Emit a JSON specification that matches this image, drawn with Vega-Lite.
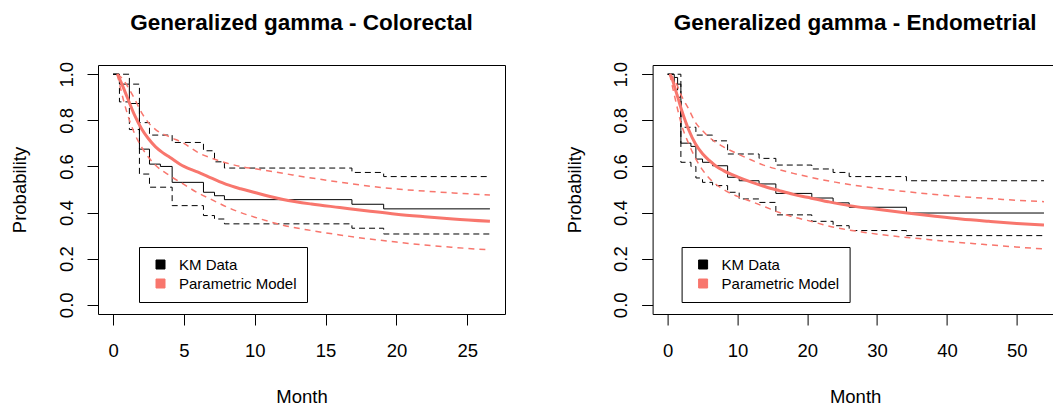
{
  "$schema": "https://vega.github.io/schema/vega-lite/v6.json",
  "padding": {"left": 10, "top": 11, "right": 0, "bottom": 0},
  "background": "white",
  "datasets": {
    "colo": [
      {"t": 0, "s": 1.0, "curve": "KM", "group": "KM Data"},
      {"t": 0.45, "s": 0.957, "curve": "KM", "group": "KM Data"},
      {"t": 1.15, "s": 0.873, "curve": "KM", "group": "KM Data"},
      {"t": 1.86, "s": 0.675, "curve": "KM", "group": "KM Data"},
      {"t": 2.57, "s": 0.61, "curve": "KM", "group": "KM Data"},
      {"t": 3.34, "s": 0.6, "curve": "KM", "group": "KM Data"},
      {"t": 4.17, "s": 0.531, "curve": "KM", "group": "KM Data"},
      {"t": 6.38, "s": 0.488, "curve": "KM", "group": "KM Data"},
      {"t": 7.16, "s": 0.473, "curve": "KM", "group": "KM Data"},
      {"t": 7.86, "s": 0.456, "curve": "KM", "group": "KM Data"},
      {"t": 16.86, "s": 0.436, "curve": "KM", "group": "KM Data"},
      {"t": 19.1, "s": 0.416, "curve": "KM", "group": "KM Data"},
      {"t": 26.6, "s": 0.416, "curve": "KM", "group": "KM Data"},

      {"t": 0, "s": 1.0, "curve": "KM_hi", "group": "KM Data"},
      {"t": 1.15, "s": 0.957, "curve": "KM_hi", "group": "KM Data"},
      {"t": 1.86, "s": 0.79, "curve": "KM_hi", "group": "KM Data"},
      {"t": 2.57, "s": 0.736, "curve": "KM_hi", "group": "KM Data"},
      {"t": 4.17, "s": 0.704, "curve": "KM_hi", "group": "KM Data"},
      {"t": 6.38, "s": 0.668, "curve": "KM_hi", "group": "KM Data"},
      {"t": 7.16, "s": 0.62, "curve": "KM_hi", "group": "KM Data"},
      {"t": 7.86, "s": 0.593, "curve": "KM_hi", "group": "KM Data"},
      {"t": 16.86, "s": 0.574, "curve": "KM_hi", "group": "KM Data"},
      {"t": 19.1, "s": 0.556, "curve": "KM_hi", "group": "KM Data"},
      {"t": 26.6, "s": 0.556, "curve": "KM_hi", "group": "KM Data"},

      {"t": 0, "s": 1.0, "curve": "KM_lo", "group": "KM Data"},
      {"t": 0.45, "s": 0.88, "curve": "KM_lo", "group": "KM Data"},
      {"t": 1.15, "s": 0.76, "curve": "KM_lo", "group": "KM Data"},
      {"t": 1.86, "s": 0.567, "curve": "KM_lo", "group": "KM Data"},
      {"t": 2.57, "s": 0.51, "curve": "KM_lo", "group": "KM Data"},
      {"t": 4.17, "s": 0.43, "curve": "KM_lo", "group": "KM Data"},
      {"t": 6.38, "s": 0.387, "curve": "KM_lo", "group": "KM Data"},
      {"t": 7.16, "s": 0.372, "curve": "KM_lo", "group": "KM Data"},
      {"t": 7.86, "s": 0.351, "curve": "KM_lo", "group": "KM Data"},
      {"t": 16.86, "s": 0.332, "curve": "KM_lo", "group": "KM Data"},
      {"t": 19.1, "s": 0.307, "curve": "KM_lo", "group": "KM Data"},
      {"t": 26.6, "s": 0.307, "curve": "KM_lo", "group": "KM Data"},

      {"t": 0.3, "s": 1.0, "curve": "M", "group": "Parametric Model"},
      {"t": 0.6, "s": 0.96, "curve": "M", "group": "Parametric Model"},
      {"t": 1.0, "s": 0.9, "curve": "M", "group": "Parametric Model"},
      {"t": 1.5, "s": 0.825, "curve": "M", "group": "Parametric Model"},
      {"t": 2.0, "s": 0.765, "curve": "M", "group": "Parametric Model"},
      {"t": 2.5, "s": 0.72, "curve": "M", "group": "Parametric Model"},
      {"t": 3.0, "s": 0.685, "curve": "M", "group": "Parametric Model"},
      {"t": 3.5, "s": 0.66, "curve": "M", "group": "Parametric Model"},
      {"t": 4.0, "s": 0.64, "curve": "M", "group": "Parametric Model"},
      {"t": 5.0, "s": 0.6, "curve": "M", "group": "Parametric Model"},
      {"t": 6.0, "s": 0.575, "curve": "M", "group": "Parametric Model"},
      {"t": 7.0, "s": 0.548, "curve": "M", "group": "Parametric Model"},
      {"t": 8.0, "s": 0.522, "curve": "M", "group": "Parametric Model"},
      {"t": 9.0, "s": 0.503, "curve": "M", "group": "Parametric Model"},
      {"t": 10.0, "s": 0.487, "curve": "M", "group": "Parametric Model"},
      {"t": 11.0, "s": 0.471, "curve": "M", "group": "Parametric Model"},
      {"t": 12.0, "s": 0.457, "curve": "M", "group": "Parametric Model"},
      {"t": 14.0, "s": 0.437, "curve": "M", "group": "Parametric Model"},
      {"t": 16.0, "s": 0.422, "curve": "M", "group": "Parametric Model"},
      {"t": 18.0, "s": 0.407, "curve": "M", "group": "Parametric Model"},
      {"t": 20.0, "s": 0.393, "curve": "M", "group": "Parametric Model"},
      {"t": 22.0, "s": 0.382, "curve": "M", "group": "Parametric Model"},
      {"t": 24.0, "s": 0.372, "curve": "M", "group": "Parametric Model"},
      {"t": 26.6, "s": 0.362, "curve": "M", "group": "Parametric Model"},

      {"t": 0.3, "s": 1.0, "curve": "M_hi", "group": "Parametric Model"},
      {"t": 0.6, "s": 0.985, "curve": "M_hi", "group": "Parametric Model"},
      {"t": 1.0, "s": 0.95, "curve": "M_hi", "group": "Parametric Model"},
      {"t": 1.5, "s": 0.895, "curve": "M_hi", "group": "Parametric Model"},
      {"t": 2.0, "s": 0.835, "curve": "M_hi", "group": "Parametric Model"},
      {"t": 2.5, "s": 0.79, "curve": "M_hi", "group": "Parametric Model"},
      {"t": 3.0, "s": 0.76, "curve": "M_hi", "group": "Parametric Model"},
      {"t": 4.0, "s": 0.728, "curve": "M_hi", "group": "Parametric Model"},
      {"t": 5.0, "s": 0.7, "curve": "M_hi", "group": "Parametric Model"},
      {"t": 6.0, "s": 0.66, "curve": "M_hi", "group": "Parametric Model"},
      {"t": 7.0, "s": 0.635, "curve": "M_hi", "group": "Parametric Model"},
      {"t": 8.0, "s": 0.615, "curve": "M_hi", "group": "Parametric Model"},
      {"t": 9.0, "s": 0.6, "curve": "M_hi", "group": "Parametric Model"},
      {"t": 10.0, "s": 0.59, "curve": "M_hi", "group": "Parametric Model"},
      {"t": 12.0, "s": 0.57, "curve": "M_hi", "group": "Parametric Model"},
      {"t": 14.0, "s": 0.55, "curve": "M_hi", "group": "Parametric Model"},
      {"t": 16.0, "s": 0.532, "curve": "M_hi", "group": "Parametric Model"},
      {"t": 18.0, "s": 0.515, "curve": "M_hi", "group": "Parametric Model"},
      {"t": 20.0, "s": 0.502, "curve": "M_hi", "group": "Parametric Model"},
      {"t": 22.0, "s": 0.493, "curve": "M_hi", "group": "Parametric Model"},
      {"t": 24.0, "s": 0.485, "curve": "M_hi", "group": "Parametric Model"},
      {"t": 26.6, "s": 0.476, "curve": "M_hi", "group": "Parametric Model"},

      {"t": 0.3, "s": 1.0, "curve": "M_lo", "group": "Parametric Model"},
      {"t": 0.6, "s": 0.92, "curve": "M_lo", "group": "Parametric Model"},
      {"t": 1.0, "s": 0.83, "curve": "M_lo", "group": "Parametric Model"},
      {"t": 1.5, "s": 0.745, "curve": "M_lo", "group": "Parametric Model"},
      {"t": 2.0, "s": 0.685, "curve": "M_lo", "group": "Parametric Model"},
      {"t": 2.5, "s": 0.64, "curve": "M_lo", "group": "Parametric Model"},
      {"t": 3.0, "s": 0.605, "curve": "M_lo", "group": "Parametric Model"},
      {"t": 4.0, "s": 0.56, "curve": "M_lo", "group": "Parametric Model"},
      {"t": 5.0, "s": 0.522, "curve": "M_lo", "group": "Parametric Model"},
      {"t": 6.0, "s": 0.485, "curve": "M_lo", "group": "Parametric Model"},
      {"t": 7.0, "s": 0.455, "curve": "M_lo", "group": "Parametric Model"},
      {"t": 8.0, "s": 0.425, "curve": "M_lo", "group": "Parametric Model"},
      {"t": 9.0, "s": 0.4, "curve": "M_lo", "group": "Parametric Model"},
      {"t": 10.0, "s": 0.38, "curve": "M_lo", "group": "Parametric Model"},
      {"t": 12.0, "s": 0.345, "curve": "M_lo", "group": "Parametric Model"},
      {"t": 14.0, "s": 0.322, "curve": "M_lo", "group": "Parametric Model"},
      {"t": 16.0, "s": 0.303, "curve": "M_lo", "group": "Parametric Model"},
      {"t": 18.0, "s": 0.286, "curve": "M_lo", "group": "Parametric Model"},
      {"t": 20.0, "s": 0.272, "curve": "M_lo", "group": "Parametric Model"},
      {"t": 22.0, "s": 0.259, "curve": "M_lo", "group": "Parametric Model"},
      {"t": 24.0, "s": 0.249, "curve": "M_lo", "group": "Parametric Model"},
      {"t": 26.6, "s": 0.238, "curve": "M_lo", "group": "Parametric Model"}
    ],
    "endo": [
      {"t": 0, "s": 1.0, "curve": "KM", "group": "KM Data"},
      {"t": 0.95, "s": 0.986, "curve": "KM", "group": "KM Data"},
      {"t": 1.43, "s": 0.957, "curve": "KM", "group": "KM Data"},
      {"t": 1.9, "s": 0.701, "curve": "KM", "group": "KM Data"},
      {"t": 3.34, "s": 0.687, "curve": "KM", "group": "KM Data"},
      {"t": 4.05, "s": 0.632, "curve": "KM", "group": "KM Data"},
      {"t": 5.0, "s": 0.618, "curve": "KM", "group": "KM Data"},
      {"t": 6.44, "s": 0.603, "curve": "KM", "group": "KM Data"},
      {"t": 8.59, "s": 0.553, "curve": "KM", "group": "KM Data"},
      {"t": 10.25, "s": 0.538, "curve": "KM", "group": "KM Data"},
      {"t": 13.1, "s": 0.524, "curve": "KM", "group": "KM Data"},
      {"t": 15.5, "s": 0.483, "curve": "KM", "group": "KM Data"},
      {"t": 20.65, "s": 0.463, "curve": "KM", "group": "KM Data"},
      {"t": 23.7, "s": 0.442, "curve": "KM", "group": "KM Data"},
      {"t": 26.0, "s": 0.423, "curve": "KM", "group": "KM Data"},
      {"t": 34.2, "s": 0.398, "curve": "KM", "group": "KM Data"},
      {"t": 53.9, "s": 0.398, "curve": "KM", "group": "KM Data"},

      {"t": 0, "s": 1.0, "curve": "KM_hi", "group": "KM Data"},
      {"t": 1.9, "s": 0.77, "curve": "KM_hi", "group": "KM Data"},
      {"t": 4.05, "s": 0.736, "curve": "KM_hi", "group": "KM Data"},
      {"t": 6.44, "s": 0.711, "curve": "KM_hi", "group": "KM Data"},
      {"t": 8.59, "s": 0.654, "curve": "KM_hi", "group": "KM Data"},
      {"t": 13.1, "s": 0.635, "curve": "KM_hi", "group": "KM Data"},
      {"t": 15.5, "s": 0.606, "curve": "KM_hi", "group": "KM Data"},
      {"t": 20.65, "s": 0.589, "curve": "KM_hi", "group": "KM Data"},
      {"t": 23.7, "s": 0.574, "curve": "KM_hi", "group": "KM Data"},
      {"t": 26.0, "s": 0.556, "curve": "KM_hi", "group": "KM Data"},
      {"t": 34.2, "s": 0.538, "curve": "KM_hi", "group": "KM Data"},
      {"t": 53.9, "s": 0.538, "curve": "KM_hi", "group": "KM Data"},

      {"t": 0, "s": 1.0, "curve": "KM_lo", "group": "KM Data"},
      {"t": 0.95, "s": 0.96, "curve": "KM_lo", "group": "KM Data"},
      {"t": 1.43, "s": 0.9, "curve": "KM_lo", "group": "KM Data"},
      {"t": 1.9, "s": 0.618, "curve": "KM_lo", "group": "KM Data"},
      {"t": 3.34, "s": 0.6, "curve": "KM_lo", "group": "KM Data"},
      {"t": 4.05, "s": 0.55, "curve": "KM_lo", "group": "KM Data"},
      {"t": 5.0, "s": 0.531, "curve": "KM_lo", "group": "KM Data"},
      {"t": 6.44, "s": 0.517, "curve": "KM_lo", "group": "KM Data"},
      {"t": 8.59, "s": 0.488, "curve": "KM_lo", "group": "KM Data"},
      {"t": 10.25, "s": 0.459, "curve": "KM_lo", "group": "KM Data"},
      {"t": 13.1, "s": 0.444, "curve": "KM_lo", "group": "KM Data"},
      {"t": 15.5, "s": 0.39, "curve": "KM_lo", "group": "KM Data"},
      {"t": 20.65, "s": 0.362, "curve": "KM_lo", "group": "KM Data"},
      {"t": 23.7, "s": 0.343, "curve": "KM_lo", "group": "KM Data"},
      {"t": 26.0, "s": 0.322, "curve": "KM_lo", "group": "KM Data"},
      {"t": 34.2, "s": 0.3, "curve": "KM_lo", "group": "KM Data"},
      {"t": 53.9, "s": 0.3, "curve": "KM_lo", "group": "KM Data"},

      {"t": 0.3, "s": 1.0, "curve": "M", "group": "Parametric Model"},
      {"t": 0.6, "s": 0.985, "curve": "M", "group": "Parametric Model"},
      {"t": 1.0, "s": 0.945, "curve": "M", "group": "Parametric Model"},
      {"t": 1.5, "s": 0.895, "curve": "M", "group": "Parametric Model"},
      {"t": 2.0, "s": 0.845, "curve": "M", "group": "Parametric Model"},
      {"t": 2.5, "s": 0.8, "curve": "M", "group": "Parametric Model"},
      {"t": 3.0, "s": 0.76, "curve": "M", "group": "Parametric Model"},
      {"t": 4.0, "s": 0.697, "curve": "M", "group": "Parametric Model"},
      {"t": 5.0, "s": 0.655, "curve": "M", "group": "Parametric Model"},
      {"t": 6.0, "s": 0.625, "curve": "M", "group": "Parametric Model"},
      {"t": 7.0, "s": 0.6, "curve": "M", "group": "Parametric Model"},
      {"t": 8.0, "s": 0.582, "curve": "M", "group": "Parametric Model"},
      {"t": 10.0, "s": 0.555, "curve": "M", "group": "Parametric Model"},
      {"t": 12.0, "s": 0.532, "curve": "M", "group": "Parametric Model"},
      {"t": 14.0, "s": 0.512, "curve": "M", "group": "Parametric Model"},
      {"t": 16.0, "s": 0.495, "curve": "M", "group": "Parametric Model"},
      {"t": 18.0, "s": 0.479, "curve": "M", "group": "Parametric Model"},
      {"t": 20.0, "s": 0.466, "curve": "M", "group": "Parametric Model"},
      {"t": 23.0, "s": 0.447, "curve": "M", "group": "Parametric Model"},
      {"t": 26.0, "s": 0.43, "curve": "M", "group": "Parametric Model"},
      {"t": 30.0, "s": 0.414, "curve": "M", "group": "Parametric Model"},
      {"t": 34.0, "s": 0.399, "curve": "M", "group": "Parametric Model"},
      {"t": 38.0, "s": 0.385, "curve": "M", "group": "Parametric Model"},
      {"t": 42.0, "s": 0.372, "curve": "M", "group": "Parametric Model"},
      {"t": 46.0, "s": 0.362, "curve": "M", "group": "Parametric Model"},
      {"t": 50.0, "s": 0.353, "curve": "M", "group": "Parametric Model"},
      {"t": 53.9, "s": 0.346, "curve": "M", "group": "Parametric Model"},

      {"t": 0.3, "s": 1.0, "curve": "M_hi", "group": "Parametric Model"},
      {"t": 1.0, "s": 0.975, "curve": "M_hi", "group": "Parametric Model"},
      {"t": 2.0, "s": 0.905, "curve": "M_hi", "group": "Parametric Model"},
      {"t": 3.0, "s": 0.85, "curve": "M_hi", "group": "Parametric Model"},
      {"t": 4.0, "s": 0.79, "curve": "M_hi", "group": "Parametric Model"},
      {"t": 5.0, "s": 0.755, "curve": "M_hi", "group": "Parametric Model"},
      {"t": 6.0, "s": 0.725, "curve": "M_hi", "group": "Parametric Model"},
      {"t": 8.0, "s": 0.685, "curve": "M_hi", "group": "Parametric Model"},
      {"t": 10.0, "s": 0.655, "curve": "M_hi", "group": "Parametric Model"},
      {"t": 12.0, "s": 0.628, "curve": "M_hi", "group": "Parametric Model"},
      {"t": 14.0, "s": 0.603, "curve": "M_hi", "group": "Parametric Model"},
      {"t": 16.0, "s": 0.586, "curve": "M_hi", "group": "Parametric Model"},
      {"t": 18.0, "s": 0.57, "curve": "M_hi", "group": "Parametric Model"},
      {"t": 20.0, "s": 0.556, "curve": "M_hi", "group": "Parametric Model"},
      {"t": 24.0, "s": 0.532, "curve": "M_hi", "group": "Parametric Model"},
      {"t": 28.0, "s": 0.513, "curve": "M_hi", "group": "Parametric Model"},
      {"t": 32.0, "s": 0.498, "curve": "M_hi", "group": "Parametric Model"},
      {"t": 36.0, "s": 0.485, "curve": "M_hi", "group": "Parametric Model"},
      {"t": 40.0, "s": 0.474, "curve": "M_hi", "group": "Parametric Model"},
      {"t": 44.0, "s": 0.465, "curve": "M_hi", "group": "Parametric Model"},
      {"t": 48.0, "s": 0.457, "curve": "M_hi", "group": "Parametric Model"},
      {"t": 53.9, "s": 0.447, "curve": "M_hi", "group": "Parametric Model"},

      {"t": 0.3, "s": 1.0, "curve": "M_lo", "group": "Parametric Model"},
      {"t": 1.0, "s": 0.905, "curve": "M_lo", "group": "Parametric Model"},
      {"t": 2.0, "s": 0.78, "curve": "M_lo", "group": "Parametric Model"},
      {"t": 3.0, "s": 0.7, "curve": "M_lo", "group": "Parametric Model"},
      {"t": 4.0, "s": 0.635, "curve": "M_lo", "group": "Parametric Model"},
      {"t": 5.0, "s": 0.585, "curve": "M_lo", "group": "Parametric Model"},
      {"t": 6.0, "s": 0.548, "curve": "M_lo", "group": "Parametric Model"},
      {"t": 8.0, "s": 0.5, "curve": "M_lo", "group": "Parametric Model"},
      {"t": 10.0, "s": 0.47, "curve": "M_lo", "group": "Parametric Model"},
      {"t": 12.0, "s": 0.448, "curve": "M_lo", "group": "Parametric Model"},
      {"t": 14.0, "s": 0.424, "curve": "M_lo", "group": "Parametric Model"},
      {"t": 16.0, "s": 0.4, "curve": "M_lo", "group": "Parametric Model"},
      {"t": 18.0, "s": 0.381, "curve": "M_lo", "group": "Parametric Model"},
      {"t": 20.0, "s": 0.366, "curve": "M_lo", "group": "Parametric Model"},
      {"t": 24.0, "s": 0.335, "curve": "M_lo", "group": "Parametric Model"},
      {"t": 28.0, "s": 0.315, "curve": "M_lo", "group": "Parametric Model"},
      {"t": 32.0, "s": 0.299, "curve": "M_lo", "group": "Parametric Model"},
      {"t": 36.0, "s": 0.287, "curve": "M_lo", "group": "Parametric Model"},
      {"t": 40.0, "s": 0.275, "curve": "M_lo", "group": "Parametric Model"},
      {"t": 44.0, "s": 0.265, "curve": "M_lo", "group": "Parametric Model"},
      {"t": 48.0, "s": 0.255, "curve": "M_lo", "group": "Parametric Model"},
      {"t": 53.9, "s": 0.242, "curve": "M_lo", "group": "Parametric Model"}
    ]
  },
  "spacing": 147.6,
  "bounds": "flush",
  "resolve": {"legend": {"color": "independent"}},
  "hconcat": [
    {
      "title": "Generalized gamma - Colorectal",
      "width": 407,
      "height": 249,
      "data": {"name": "colo"},
      "encoding": {
        "x": {"field": "t", "type": "quantitative", "scale": {"domain": [-1.064, 27.664], "nice": false, "zero": false},
              "axis": {"values": [0, 5, 10, 15, 20, 25], "title": "Month", "titleX": 203.5, "titleY": 88}},
        "y": {"field": "s", "type": "quantitative", "scale": {"domain": [-0.04, 1.04], "nice": false, "zero": false},
              "axis": {"values": [0, 0.2, 0.4, 0.6, 0.8, 1.0], "format": ".1f", "title": "Probability", "titleX": -72.5, "titleY": 124.5}},
        "color": {"field": "group", "type": "nominal",
                  "scale": {"domain": ["KM Data", "Parametric Model"], "range": ["#000000", "#F8766D"]},
                  "legend": {"orient": "none", "legendX": 41, "legendY": 182,
                             "encode": {"symbols": {"update": {"fill": {"signal": "datum.value === 'KM Data' ? '#000000' : '#F8766D'"}, "stroke": {"value": "#000000"}, "strokeWidth": {"value": 1}, "opacity": {"value": 1}}}}}}
      },
      "layer": [
        {"transform": [{"filter": "datum.curve === 'KM_lo' || datum.curve === 'KM_hi'"}],
         "mark": {"type": "line", "interpolate": "step-after", "strokeWidth": 1, "strokeDash": [6, 4]},
         "encoding": {"detail": {"field": "curve"}}},
        {"transform": [{"filter": "datum.curve === 'KM'"}],
         "mark": {"type": "line", "interpolate": "step-after", "strokeWidth": 1}},
        {"transform": [{"filter": "datum.curve === 'M_lo' || datum.curve === 'M_hi'"}],
         "mark": {"type": "line", "interpolate": "monotone", "strokeWidth": 1.5, "strokeDash": [6, 5]},
         "encoding": {"detail": {"field": "curve"}}},
        {"transform": [{"filter": "datum.curve === 'M'"}],
         "mark": {"type": "line", "interpolate": "monotone", "strokeWidth": 3}}
      ]
    },
    {
      "title": "Generalized gamma - Endometrial",
      "width": 405,
      "height": 249,
      "data": {"name": "endo"},
      "encoding": {
        "x": {"field": "t", "type": "quantitative", "scale": {"domain": [-2.15, 55.85], "nice": false, "zero": false},
              "axis": {"values": [0, 10, 20, 30, 40, 50], "title": "Month", "titleX": 202.5, "titleY": 88}},
        "y": {"field": "s", "type": "quantitative", "scale": {"domain": [-0.04, 1.04], "nice": false, "zero": false},
              "axis": {"values": [0, 0.2, 0.4, 0.6, 0.8, 1.0], "format": ".1f", "title": "Probability", "titleX": -72.5, "titleY": 124.5}},
        "color": {"field": "group", "type": "nominal",
                  "scale": {"domain": ["KM Data", "Parametric Model"], "range": ["#000000", "#F8766D"]},
                  "legend": {"orient": "none", "legendX": 29, "legendY": 182,
                             "encode": {"symbols": {"update": {"fill": {"signal": "datum.value === 'KM Data' ? '#000000' : '#F8766D'"}, "stroke": {"value": "#000000"}, "strokeWidth": {"value": 1}, "opacity": {"value": 1}}}}}}
      },
      "layer": [
        {"transform": [{"filter": "datum.curve === 'KM_lo' || datum.curve === 'KM_hi'"}],
         "mark": {"type": "line", "interpolate": "step-after", "strokeWidth": 1, "strokeDash": [6, 4]},
         "encoding": {"detail": {"field": "curve"}}},
        {"transform": [{"filter": "datum.curve === 'KM'"}],
         "mark": {"type": "line", "interpolate": "step-after", "strokeWidth": 1}},
        {"transform": [{"filter": "datum.curve === 'M_lo' || datum.curve === 'M_hi'"}],
         "mark": {"type": "line", "interpolate": "monotone", "strokeWidth": 1.5, "strokeDash": [6, 5]},
         "encoding": {"detail": {"field": "curve"}}},
        {"transform": [{"filter": "datum.curve === 'M'"}],
         "mark": {"type": "line", "interpolate": "monotone", "strokeWidth": 3}}
      ]
    }
  ],
  "config": {
    "font": "Liberation Sans",
    "view": {"stroke": "#000000", "strokeWidth": 1},
    "axis": {
      "domain": false, "grid": false,
      "ticks": true, "tickColor": "#000000", "tickSize": 11, "tickWidth": 1,
      "labelFont": "Liberation Sans", "labelFontSize": 18.5, "labelColor": "#000000",
      "labelFlush": false, "labelOverlap": false,
      "titleFont": "Liberation Sans", "titleFontSize": 18.5, "titleFontWeight": "normal", "titleColor": "#000000",
      "titleAlign": "center", "titleBaseline": "alphabetic"
    },
    "axisX": {"labelBaseline": "alphabetic", "labelPadding": 31, "labelAngle": 0, "titleAngle": 0},
    "axisY": {"labelAngle": 270, "labelAlign": "center", "labelBaseline": "alphabetic", "labelPadding": 15, "titleAngle": 270},
    "title": {"font": "Liberation Sans", "fontSize": 22.5, "fontWeight": "bold", "color": "#000000",
              "anchor": "middle", "frame": "group", "baseline": "alphabetic", "offset": 27},
    "legend": {
      "title": null, "direction": "vertical",
      "padding": 10, "strokeColor": "#000000", "fillColor": "#ffffff", "cornerRadius": 0,
      "labelFont": "Liberation Sans", "labelFontSize": 15, "labelColor": "#000000", "labelOffset": 11,
      "symbolType": "square", "symbolSize": 81, "symbolOffset": 4, "rowPadding": 3,
      "symbolStrokeColor": "#000000", "symbolStrokeWidth": 1
    }
  }
}
